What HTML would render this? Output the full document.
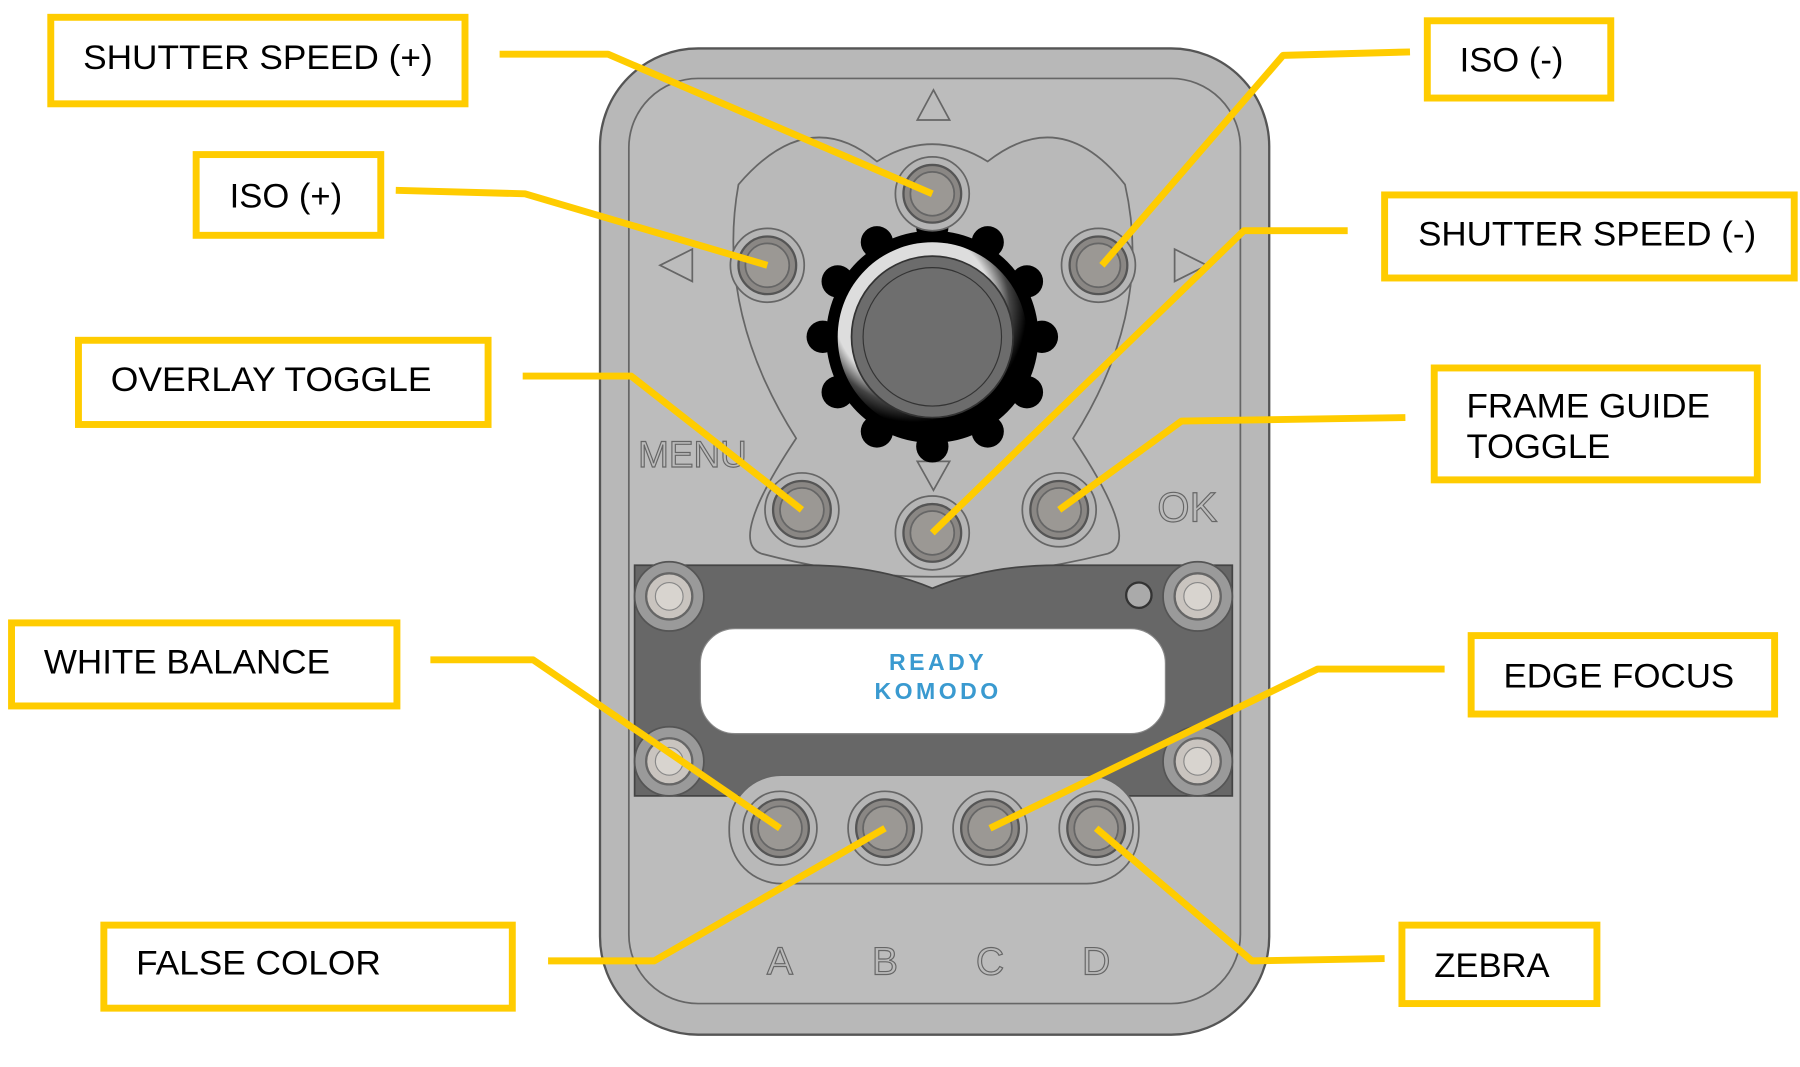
<!DOCTYPE html>
<html><head><meta charset="utf-8"><style>
html,body{margin:0;padding:0;background:#fff;width:1800px;height:1067px;overflow:hidden}
svg{display:block}
text{font-family:"Liberation Sans",sans-serif}
</style></head><body>
<svg width="1800" height="1067" viewBox="0 0 1560 925" preserveAspectRatio="none" xmlns="http://www.w3.org/2000/svg">
<defs>
<radialGradient id="kn" cx="0.4" cy="0.35" r="0.6"><stop offset="0.7" stop-color="#ddd"/><stop offset="0.85" stop-color="#444"/><stop offset="1" stop-color="#000"/></radialGradient>
<g id="btn"><circle r="32" fill="#b5b5b5" stroke="#666" stroke-width="1.5"/><circle r="25" fill="#8a8784" stroke="#555" stroke-width="2"/><circle r="19" fill="#9b9894" stroke="#666" stroke-width="1.5"/></g>
<g id="scr"><circle r="30" fill="#9a9a9a" stroke="#555" stroke-width="1.5"/><circle r="20" fill="#c9c4bf" stroke="#666" stroke-width="2"/><circle r="12" fill="#d8d4cf" stroke="#888" stroke-width="1"/></g>
</defs>
<rect x="520" y="42" width="580" height="855" rx="85" fill="#b8b8b8" stroke="#555" stroke-width="2"/>
<rect x="545" y="68" width="530" height="802" rx="60" fill="#bcbcbc" stroke="#666" stroke-width="1.5"/>
<path d="M640 160 Q700 90 760 140 Q808 110 856 140 Q920 90 975 160 Q1000 270 930 380 Q990 470 960 480 Q880 500 808 500 Q736 500 660 480 Q630 470 690 380 Q620 270 640 160Z" fill="#b9b9b9" stroke="#666" stroke-width="1.5"/>
<polygon points="809,78 795,104 823,104" fill="none" stroke="#666" stroke-width="1.5"/>
<polygon points="809,425 795,400 823,400" fill="none" stroke="#666" stroke-width="1.5"/>
<polygon points="572,230 600,216 600,244" fill="none" stroke="#666" stroke-width="1.5"/>
<polygon points="1046,230 1018,216 1018,244" fill="none" stroke="#666" stroke-width="1.5"/>
<text x="553" y="405" font-size="32" fill="#bbb" stroke="#666" stroke-width="1">MENU</text>
<text x="1003" y="452" font-size="36" fill="#bbb" stroke="#666" stroke-width="1">OK</text>
<g transform="translate(808,292)">
<circle r="92" fill="#000"/>
<g fill="#000">
<circle cx="0" cy="-95" r="14"/><circle cx="48" cy="-82" r="14"/><circle cx="82" cy="-48" r="14"/><circle cx="95" cy="0" r="14"/><circle cx="82" cy="48" r="14"/><circle cx="48" cy="82" r="14"/><circle cx="0" cy="95" r="14"/><circle cx="-48" cy="82" r="14"/><circle cx="-82" cy="48" r="14"/><circle cx="-95" cy="0" r="14"/><circle cx="-82" cy="-48" r="14"/><circle cx="-48" cy="-82" r="14"/>
</g>
<circle r="82" fill="url(#kn)"/>
<circle r="70" fill="#6c6c6c" stroke="#333" stroke-width="1.5"/>
<circle r="60" fill="#6e6e6e" stroke="#333" stroke-width="1"/>
</g>
<use href="#btn" x="808" y="168"/><use href="#btn" x="665" y="230"/><use href="#btn" x="952" y="230"/>
<use href="#btn" x="695" y="442"/><use href="#btn" x="808" y="462"/><use href="#btn" x="918" y="442"/>
<path d="M550 490 L700 490 Q760 490 808 510 Q856 490 916 490 L1068 490 L1068 690 L550 690Z" fill="#676767" stroke="#444" stroke-width="1.5"/>
<rect x="607" y="545" width="403" height="91" rx="30" fill="#fff" stroke="#888" stroke-width="1"/>
<text x="813" y="581" font-size="20" font-weight="bold" fill="#3a9ad0" text-anchor="middle" letter-spacing="3">READY</text>
<text x="813" y="606" font-size="20" font-weight="bold" fill="#3a9ad0" text-anchor="middle" letter-spacing="3">KOMODO</text>
<use href="#scr" x="580" y="517"/><use href="#scr" x="1038" y="517"/><use href="#scr" x="580" y="660"/><use href="#scr" x="1038" y="660"/>
<circle cx="987" cy="516" r="11" fill="#aaa" stroke="#333" stroke-width="2"/>
<rect x="632" y="672" width="355" height="94" rx="45" fill="#b9b9b9" stroke="#666" stroke-width="1.5"/>
<use href="#btn" x="676" y="718"/><use href="#btn" x="767" y="718"/><use href="#btn" x="858" y="718"/><use href="#btn" x="950" y="718"/>
<g font-size="34" fill="#bbb" stroke="#666" stroke-width="1" text-anchor="middle">
<text x="676" y="845">A</text><text x="767" y="845">B</text><text x="858" y="845">C</text><text x="950" y="845">D</text></g>
<g fill="none" stroke="#ffcc00" stroke-width="6" stroke-linejoin="round">
<polyline points="433,47 527,47 808,168"/>
<polyline points="343,165 455,168 665,230"/>
<polyline points="453,326 547,326 695,442"/>
<polyline points="373,572 462,572 676,718"/>
<polyline points="475,833 567,833 767,718"/>
<polyline points="1222,45 1112,48 955,230"/>
<polyline points="1168,200 1078,200 808,462"/>
<polyline points="1218,362 1024,365 918,442"/>
<polyline points="1252,580 1142,580 858,718"/>
<polyline points="1200,831 1085,833 950,718"/>
</g>
<g fill="#fff" stroke="#ffcc00" stroke-width="6">
<rect x="44" y="15" width="359" height="75"/>
<rect x="170" y="134" width="160" height="70"/>
<rect x="68" y="295" width="355" height="73"/>
<rect x="10" y="540" width="334" height="72"/>
<rect x="90" y="802" width="354" height="72"/>
<rect x="1237" y="18" width="159" height="67"/>
<rect x="1200" y="169" width="355" height="72"/>
<rect x="1243" y="319" width="280" height="97"/>
<rect x="1275" y="551" width="263" height="68"/>
<rect x="1215" y="802" width="169" height="68"/>
</g>
<g font-size="30" fill="#000">
<text x="72" y="60" textLength="303" lengthAdjust="spacingAndGlyphs">SHUTTER SPEED (+)</text>
<text x="199" y="180">ISO (+)</text>
<text x="96" y="339" textLength="278" lengthAdjust="spacingAndGlyphs">OVERLAY TOGGLE</text>
<text x="38" y="584" textLength="248" lengthAdjust="spacingAndGlyphs">WHITE BALANCE</text>
<text x="118" y="845" textLength="212" lengthAdjust="spacingAndGlyphs">FALSE COLOR</text>
<text x="1265" y="62">ISO (-)</text>
<text x="1229" y="213" textLength="293" lengthAdjust="spacingAndGlyphs">SHUTTER SPEED (-)</text>
<text x="1271" y="362" textLength="211" lengthAdjust="spacingAndGlyphs">FRAME GUIDE</text>
<text x="1271" y="397">TOGGLE</text>
<text x="1303" y="596" textLength="200" lengthAdjust="spacingAndGlyphs">EDGE FOCUS</text>
<text x="1243" y="847">ZEBRA</text>
</g>
</svg>
</body></html>
